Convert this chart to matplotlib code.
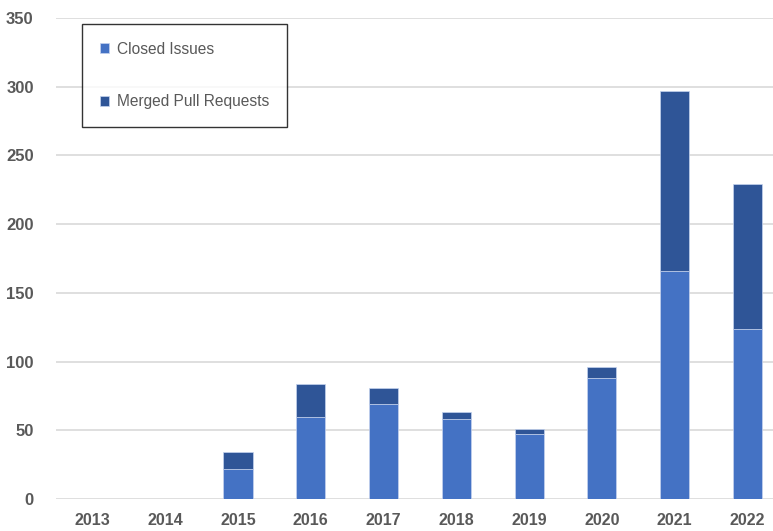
import matplotlib
matplotlib.use("Agg")
import matplotlib.pyplot as plt

years = ["2013", "2014", "2015", "2016", "2017", "2018", "2019", "2020", "2021", "2022"]
closed_issues = [0, 0, 22, 60, 69, 58, 47, 88, 166, 124]
merged_prs = [0, 0, 12, 24, 12, 5, 4, 8, 131, 105]
yticks = [0, 50, 100, 150, 200, 250, 300, 350]

c_issues = "#4472C4"
c_prs = "#2F5597"
gray = "#595959"

fig = plt.figure(figsize=(7.73, 5.31), dpi=100)
ax = fig.add_axes([0.0724, 0.0603, 0.9276, 0.9057])

x = range(len(years))
ax.bar(x, closed_issues, width=0.4, color=c_issues, edgecolor="#c5d3ee",
       linewidth=0.5, label="Closed Issues", zorder=3)
ax.bar(x, merged_prs, width=0.4, bottom=closed_issues, color=c_prs,
       edgecolor="#c5d3ee", linewidth=0.5, label="Merged Pull Requests", zorder=3)

ax.set_ylim(0, 350)
ax.set_xlim(-0.5, 9.35)
ax.set_yticks(yticks)
ax.set_xticks(list(x))
ax.set_xticklabels(years)
ax.yaxis.grid(True, color="#d9d9d9", linewidth=1.2, zorder=0)
ax.set_axisbelow(True)
for s in ax.spines.values():
    s.set_visible(False)
ax.tick_params(axis="both", length=0, colors=gray, labelsize=12)
ax.tick_params(axis="x", labelsize=11.5)
ax.tick_params(axis="y", pad=16)
ax.tick_params(axis="x", pad=10)
for lab in ax.get_xticklabels() + ax.get_yticklabels():
    lab.set_fontweight("bold")
    lab.set_family("Liberation Sans")

leg = fig.legend(loc="upper left", bbox_to_anchor=(0.106, 0.955), fontsize=11.2,
                 frameon=True, fancybox=False, edgecolor="black",
                 handlelength=0.6, handleheight=0.6, handletextpad=0.5,
                 labelspacing=2.4, borderpad=1.15, borderaxespad=0)
leg.get_frame().set_linewidth(1.0)
for t in leg.get_texts():
    t.set_color(gray)
    t.set_family("Liberation Sans")

fig.savefig("out.png", dpi=100)
